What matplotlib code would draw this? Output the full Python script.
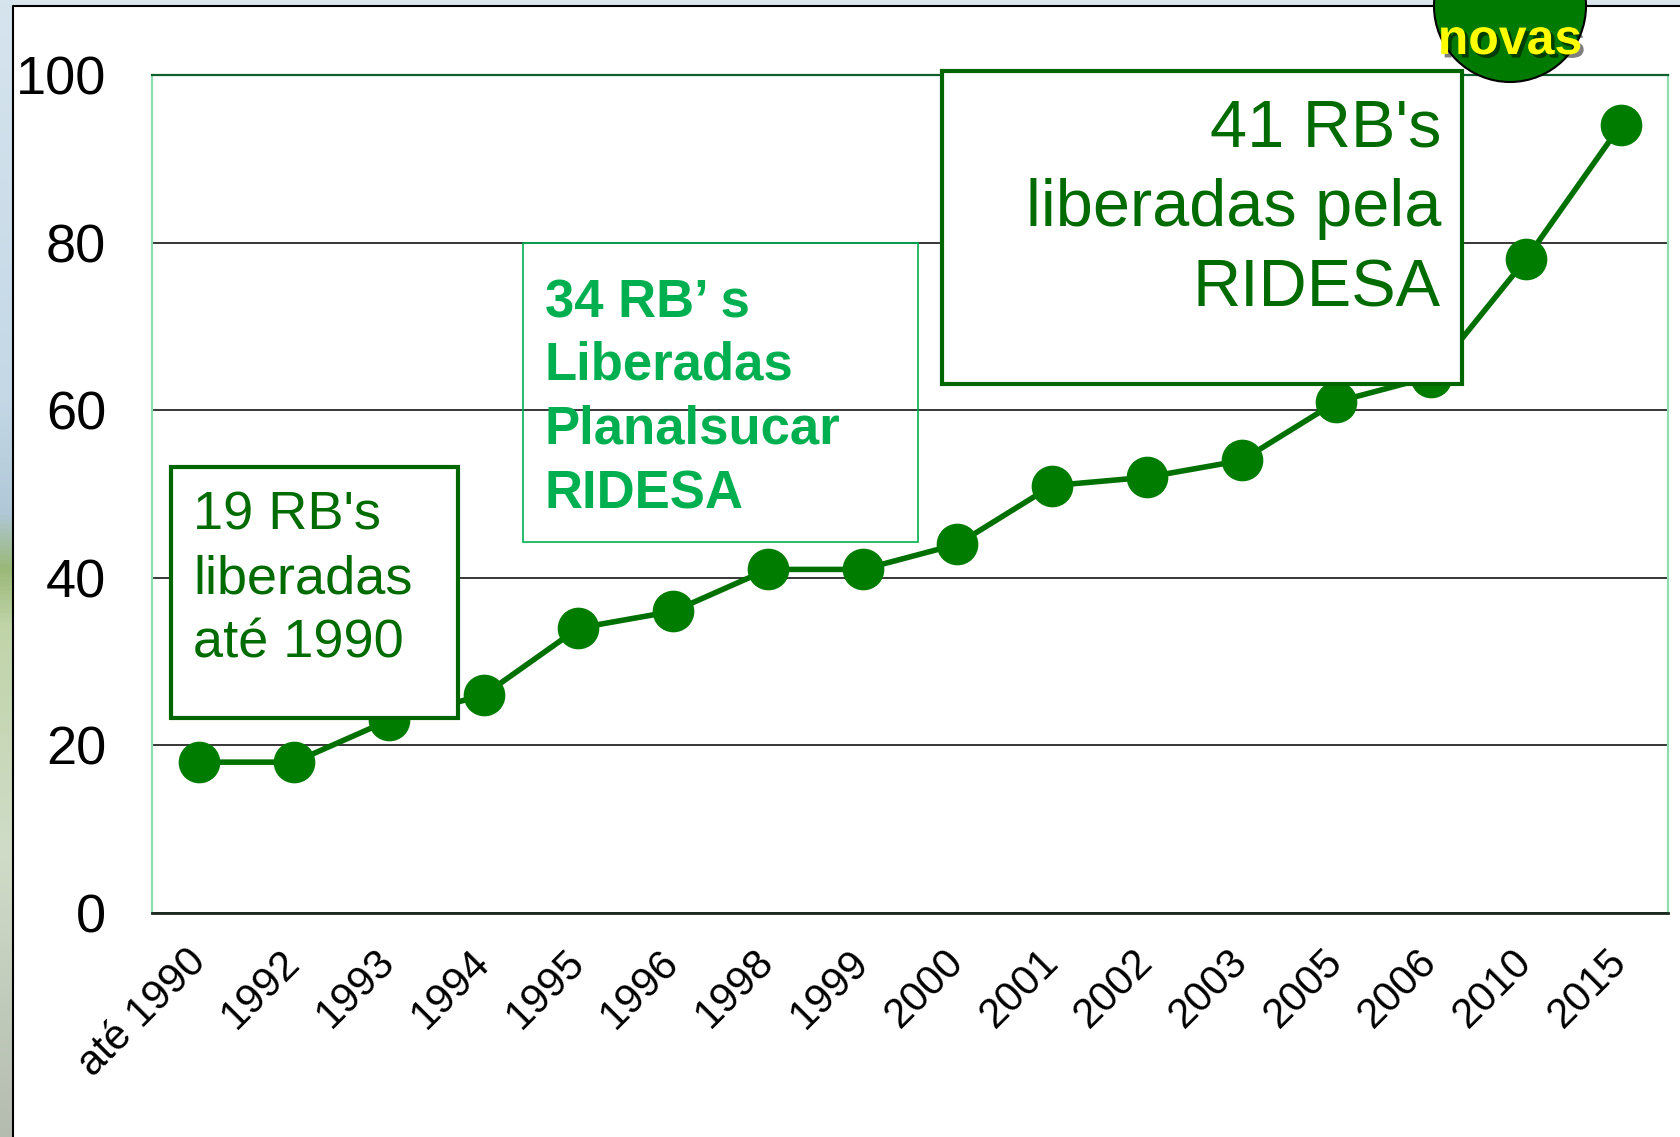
import matplotlib
matplotlib.use('Agg')
import matplotlib.pyplot as plt
import numpy as np
from matplotlib.patches import Rectangle, Ellipse
from matplotlib.lines import Line2D
import matplotlib.patheffects as pe
from matplotlib.colors import LinearSegmentedColormap
from matplotlib.transforms import ScaledTranslation

# ---- data ----
categories = ['até 1990', '1992', '1993', '1994', '1995', '1996', '1998', '1999',
              '2000', '2001', '2002', '2003', '2005', '2006', '2010', '2015']
values = [18, 18, 23, 26, 34, 36, 41, 41, 44, 51, 52, 54, 61, 64, 78, 94]
y_ticks = [0, 20, 40, 60, 80, 100]
box1_lines = ["19 RB's", "liberadas", "até 1990"]
box2_lines = ["34 RB’ s", "Liberadas", "Planalsucar", "RIDESA"]
box3_lines = ["41 RB's", "liberadas pela", "RIDESA"]
badge_text = "novas"

W, H, DPI = 1680, 1137, 100
plt.rcParams['font.family'] = ['Liberation Sans', 'DejaVu Sans']
fig = plt.figure(figsize=(W / DPI, H / DPI), dpi=DPI)
fig.patch.set_facecolor('white')


def fx(x):
    return x / W


def fy(y):
    return 1 - y / H


# ---- background decoration (slide edges) ----
bg = fig.add_axes([0, 0, fx(13), 1])
cmap = LinearSegmentedColormap.from_list(
    'bg', [(0.0, '#d6e4ee'), (0.35, '#c4d8e6'), (0.45, '#b0c8d8'), (0.5, '#9ab878'),
           (0.55, '#c0d4a8'), (0.75, '#d0dcc8'), (1.0, '#b4bcb0')])
bg.imshow(np.linspace(0, 1, 256).reshape(-1, 1), aspect='auto', cmap=cmap,
          extent=[0, 1, 0, 1], origin='upper')
bg.axis('off')
fig.add_artist(Rectangle((fx(13), fy(6)), 1 - fx(13), 6 / H, transform=fig.transFigure,
                         fc='#dbe6ee', ec='none', zorder=1))
fig.add_artist(Line2D([fx(13), fx(13), 1], [0, fy(6), fy(6)], transform=fig.transFigure,
                      color='black', lw=1.5, zorder=2))

# ---- main chart ----
ax = fig.add_axes([fx(152), fy(913), (1668 - 152) / W, (913 - 75) / H])
x = np.arange(len(categories))
ax.plot(x, values, color='#007000', lw=4, marker='o', ms=29,
        mfc='#007d00', mec='#007d00', zorder=3, clip_on=False)
ax.set_xlim(-0.5, len(categories) - 0.5)
ax.set_ylim(0, 100)
ax.set_yticks(y_ticks)
ax.set_yticklabels([str(v) for v in y_ticks], fontsize=39)
ax.yaxis.grid(True, color='black', lw=1.1)
ax.set_axisbelow(True)
ax.set_xticks(x)
ax.set_xticklabels(categories, rotation=45, ha='right', va='center',
                   rotation_mode='anchor', fontsize=30)
shift = ScaledTranslation(9 / DPI, 0, fig.dpi_scale_trans)
for lab in ax.get_xticklabels():
    lab.set_transform(lab.get_transform() + shift)
ax.tick_params(axis='both', length=0)
ax.tick_params(axis='y', pad=33)
ax.tick_params(axis='x', pad=31)
ax.spines['left'].set_color('#8edcb0')
ax.spines['right'].set_color('#8edcb0')
ax.spines['left'].set_linewidth(1.6)
ax.spines['right'].set_linewidth(1.6)
ax.spines['top'].set_color('#10602e')
ax.spines['top'].set_linewidth(1.6)
ax.spines['bottom'].set_color('#1a2820')
ax.spines['bottom'].set_linewidth(2)

# ---- annotation boxes ----
dark = '#006600'
dark_txt = '#006b00'
bright = '#00b050'

fig.add_artist(Rectangle((fx(171), fy(718)), (458 - 171) / W, (718 - 467) / H,
                         transform=fig.transFigure, fc='white', ec=dark, lw=3, zorder=5))
for t, b in zip(box1_lines, [530, 593, 657]):
    fig.text(fx(193), fy(b), t, fontsize=39, color=dark_txt, va='baseline', ha='left', zorder=6)

fig.add_artist(Rectangle((fx(523), fy(542)), (918 - 523) / W, (542 - 243) / H,
                         transform=fig.transFigure, fc='none', ec=bright, lw=1.2, zorder=5))
for t, b in zip(box2_lines, [317, 380, 443, 508]):
    fig.text(fx(545), fy(b), t, fontsize=38, color=bright, weight='bold',
             va='baseline', ha='left', zorder=6)

fig.add_artist(Rectangle((fx(942), fy(384)), (1462 - 942) / W, (384 - 71) / H,
                         transform=fig.transFigure, fc='white', ec=dark, lw=3, zorder=5))
for t, b in zip(box3_lines, [147, 226, 307]):
    fig.text(fx(1441), fy(b), t, fontsize=48, color=dark_txt, va='baseline', ha='right', zorder=6)

# ---- badge ----
fig.add_artist(Ellipse((fx(1510), fy(6)), 152 / W, 152 / H, transform=fig.transFigure,
                       fc='#007a00', ec='black', lw=1.5, zorder=7))
fig.text(fx(1510), fy(54), badge_text, fontsize=36, weight='bold', color='#ffff00',
         ha='center', va='baseline', zorder=8,
         path_effects=[pe.SimplePatchShadow(offset=(2.5, -2.5), shadow_rgbFace='black', alpha=0.5),
                       pe.Normal()])

fig.savefig('out.png', dpi=DPI)
